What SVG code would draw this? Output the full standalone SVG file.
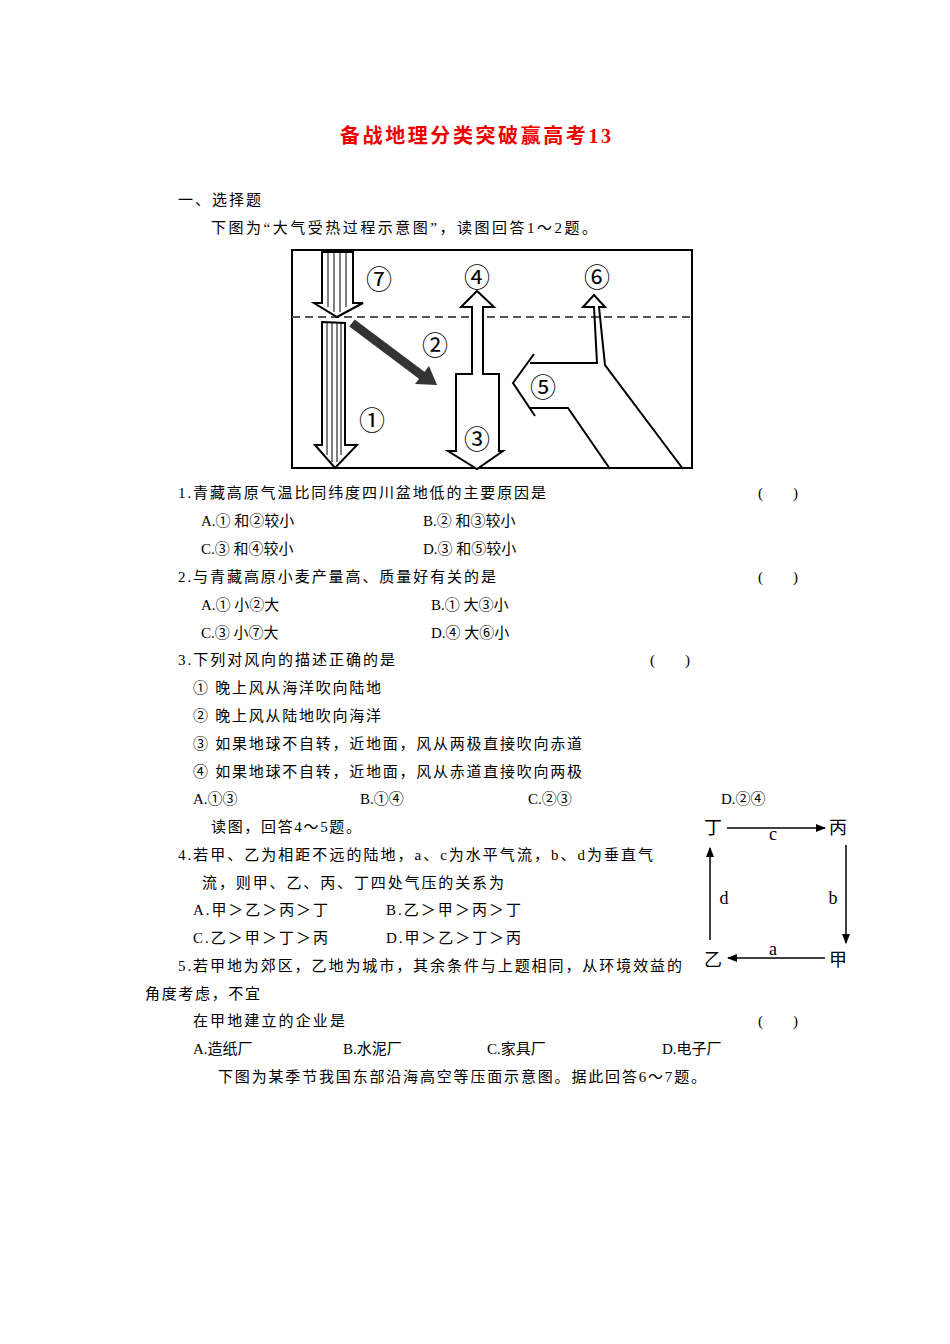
<svg xmlns="http://www.w3.org/2000/svg" width="950" height="1344" viewBox="0 0 950 1344">
<style>
text{font-family:"Liberation Serif","Noto Sans CJK SC",serif;font-size:15px;fill:#000}
.t{font-size:20px;fill:#e00;font-weight:bold}
.n{font-size:26px}
.s{fill:#fff;stroke:#000;stroke-width:2}
.l{fill:none;stroke:#000;stroke-width:2}
.st{stroke:#000;stroke-width:1}
.q{font-size:18px}
</style>
<defs><marker id="ah" viewBox="0 0 10 10" refX="9" refY="5" markerWidth="7" markerHeight="7" orient="auto"><path d="M0,1 L10,5 L0,9 z" fill="#000"/></marker></defs>
<rect width="950" height="1344" fill="#fff"/>
<text class="t" x="340" y="143" textLength="271" lengthAdjust="spacing">备战地理分类突破赢高考13</text>
<text x="178" y="205" textLength="83" lengthAdjust="spacing">一、选择题</text>
<text x="211" y="233" textLength="386" lengthAdjust="spacing">下图为“大气受热过程示意图”，读图回答1～2题。</text>
<g id="fig1">
<rect x="292" y="250" width="400" height="218" class="l"/>
<line x1="292" y1="317" x2="692" y2="317" stroke="#555" stroke-width="2" stroke-dasharray="8,5"/>
<g id="a7"><path d="M322,252 V303 H314 L337,317 L363,303 H353 V252 Z" class="s"/>
<path d="M328,252V307M334,252V312M340,252V312M346,252V307" class="st"/></g>
<g id="a1"><path d="M322,322 L345,323 V445 H357 L335,468 L315,445 H322 Z" class="s"/>
<path d="M327,323V455M332,323V462M337,323V462M341,323V455" class="st"/></g>
<g id="a2"><line x1="352" y1="323" x2="424" y2="377" stroke="#333" stroke-width="9"/><path d="M437,385 L415,384 L429,366 Z" fill="#333"/></g>
<g id="a34"><path d="M472,374 V307 H461 L477,291 L494,307 H483 V374 H499 V451 H503 L477,469 L448,451 H456 V374 Z" class="s"/></g>
<g id="a56"><path d="M534,354 L513,383 L535,416" class="l"/>
<path d="M530,363 H597 L594,307 H583 L594,295 L605,307 H599 L605,365 L683,469" class="l"/>
<path d="M530,408 H568 L610,469" class="l"/></g>
<text class="n" x="379" y="289" text-anchor="middle">⑦</text>
<text class="n" x="435" y="355" text-anchor="middle">②</text>
<text class="n" x="372" y="430" text-anchor="middle">①</text>
<text class="n" x="477" y="449" text-anchor="middle">③</text>
<text class="n" x="477" y="287" text-anchor="middle">④</text>
<text class="n" x="543" y="397" text-anchor="middle">⑤</text>
<text class="n" x="597" y="287" text-anchor="middle">⑥</text>
</g>
<text x="178" y="498" textLength="368" lengthAdjust="spacing">1.青藏高原气温比同纬度四川盆地低的主要原因是</text><text x="758" y="498">(　　)</text>
<text x="201" y="526">A.① 和②较小</text><text x="423" y="526">B.② 和③较小</text>
<text x="201" y="554">C.③ 和④较小</text><text x="423" y="554">D.③ 和⑤较小</text>
<text x="178" y="582" textLength="318" lengthAdjust="spacing">2.与青藏高原小麦产量高、质量好有关的是</text><text x="758" y="582">(　　)</text>
<text x="201" y="610">A.① 小②大</text><text x="431" y="610">B.① 大③小</text>
<text x="201" y="638">C.③ 小⑦大</text><text x="431" y="638">D.④ 大⑥小</text>
<text x="178" y="665" textLength="217" lengthAdjust="spacing">3.下列对风向的描述正确的是</text><text x="650" y="665">(　　)</text>
<text x="193" y="693" textLength="188" lengthAdjust="spacing">① 晚上风从海洋吹向陆地</text>
<text x="193" y="721" textLength="188" lengthAdjust="spacing">② 晚上风从陆地吹向海洋</text>
<text x="193" y="749" textLength="389" lengthAdjust="spacing">③ 如果地球不自转，近地面，风从两极直接吹向赤道</text>
<text x="193" y="777" textLength="389" lengthAdjust="spacing">④ 如果地球不自转，近地面，风从赤道直接吹向两极</text>
<text x="193" y="804">A.①③</text><text x="360" y="804">B.①④</text><text x="528" y="804">C.②③</text><text x="721" y="804">D.②④</text>
<text x="211" y="832" textLength="150" lengthAdjust="spacing">读图，回答4～5题。</text>
<text x="178" y="860" textLength="475" lengthAdjust="spacing">4.若甲、乙为相距不远的陆地，a、c为水平气流，b、d为垂直气</text>
<text x="202" y="888" textLength="302" lengthAdjust="spacing">流，则甲、乙、丙、丁四处气压的关系为</text>
<text x="193" y="915" textLength="135" lengthAdjust="spacing">A.甲＞乙＞丙＞丁</text><text x="386" y="915" textLength="135" lengthAdjust="spacing">B.乙＞甲＞丙＞丁</text>
<text x="193" y="943" textLength="135" lengthAdjust="spacing">C.乙＞甲＞丁＞丙</text><text x="386" y="943" textLength="135" lengthAdjust="spacing">D.甲＞乙＞丁＞丙</text>
<text x="178" y="971" textLength="504" lengthAdjust="spacing">5.若甲地为郊区，乙地为城市，其余条件与上题相同，从环境效益的</text>
<text x="145" y="999" textLength="115" lengthAdjust="spacing">角度考虑，不宜</text>
<text x="193" y="1026" textLength="152" lengthAdjust="spacing">在甲地建立的企业是</text><text x="758" y="1026">(　　)</text>
<text x="193" y="1054">A.造纸厂</text><text x="343" y="1054">B.水泥厂</text><text x="487" y="1054">C.家具厂</text><text x="662" y="1054">D.电子厂</text>
<text x="218" y="1082" textLength="488" lengthAdjust="spacing">下图为某季节我国东部沿海高空等压面示意图。据此回答6～7题。</text>
<g id="fig2">
<text class="q" x="713" y="834" text-anchor="middle">丁</text>
<text class="q" x="838" y="834" text-anchor="middle">丙</text>
<text class="q" x="713" y="966" text-anchor="middle">乙</text>
<text class="q" x="838" y="966" text-anchor="middle">甲</text>
<g id="conn" stroke="#000" stroke-width="1.5">
<line x1="727" y1="828" x2="825" y2="828" marker-end="url(#ah)"/>
<line x1="846" y1="845" x2="846" y2="943" marker-end="url(#ah)"/>
<line x1="825" y1="958" x2="728" y2="958" marker-end="url(#ah)"/>
<line x1="710" y1="940" x2="710" y2="848" marker-end="url(#ah)"/>
</g>
<text class="q" x="773" y="840" text-anchor="middle">c</text>
<text class="q" x="833" y="904" text-anchor="middle">b</text>
<text class="q" x="773" y="955" text-anchor="middle">a</text>
<text class="q" x="724" y="904" text-anchor="middle">d</text>
</g>
</svg>
